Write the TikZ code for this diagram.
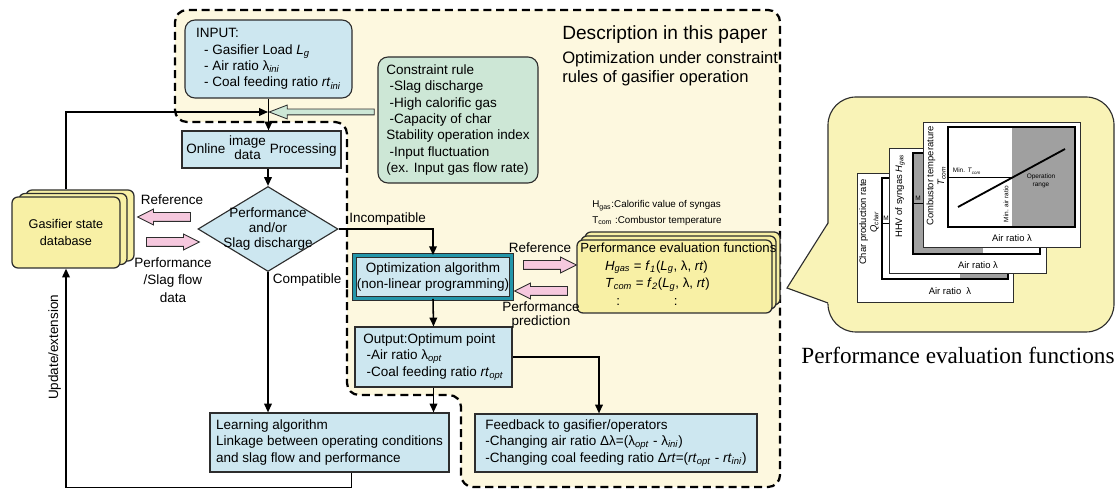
\documentclass[tikz,border=0pt]{standalone}
\usepackage{fontspec}
\setmainfont{Liberation Sans}
\newfontfamily\capfont{Liberation Serif}
\usetikzlibrary{shapes.geometric,shapes.arrows,arrows.meta,calc,positioning}

\definecolor{boxblue}{RGB}{205,231,240}
\definecolor{dbyellow}{RGB}{248,240,165}
\definecolor{zoneyellow}{RGB}{253,248,223}
\definecolor{bubbleyellow}{RGB}{249,243,183}
\definecolor{rulegreen}{RGB}{205,231,214}
\definecolor{arrowpink}{RGB}{246,200,222}
\definecolor{opteal}{RGB}{35,150,170}
\definecolor{rangegray}{RGB}{160,160,160}
\definecolor{edge}{RGB}{45,45,45}

\newcommand\pxu{0.025cm}
\newcommand\vsub[2]{\textit{#1}\textsubscript{\textit{#2}}}
\newcommand\boxfont{\fontsize{9.6}{11.7}\selectfont}
\newcommand\tinyfont{\fontsize{4.6}{5.3}\selectfont}
\newcommand\chartfont{\fontsize{6.7}{7.7}\selectfont}

\tikzset{
  zone/.style={draw=black, line width=1.6pt, dash pattern=on 0.2cm off 0.12cm, fill=zoneyellow, rounded corners=12*\pxu},
  box/.style={draw=edge, fill=boxblue, line width=0.8pt, font=\boxfont, inner xsep=2*\pxu, inner ysep=1*\pxu, align=left},
  rbox/.style={box, rounded corners=10*\pxu},
  stack/.style={draw=edge, fill=dbyellow, line width=0.9pt, rounded corners=6*\pxu, inner sep=0pt},
  flow/.style={draw=black, line width=1.1pt, -{Triangle[length=0.22cm,width=0.19cm]}},
  fatarrow/.style={single arrow, draw=edge, line width=0.6pt, inner sep=0pt, inner ysep=4*\pxu, minimum height=53*\pxu, single arrow head extend=3.5*\pxu, single arrow tip angle=53},
  pinkarrow/.style={fatarrow, fill=arrowpink},
  tag/.style={font=\boxfont, align=center, inner sep=0pt},
  card/.style={draw=edge, fill=white, line width=0.5pt},
  plotframe/.style={draw=black, line width=0.9pt},
  bubble/.style={draw=edge, fill=bubbleyellow, line width=0.8pt, rounded corners=28*\pxu}
}

\begin{document}
\begin{tikzpicture}[x=\pxu, y=-\pxu]
\useasboundingbox (0,0) rectangle (1117,490);

\draw[zone] (347,300) -- (347,122) -- (175,122) -- (175,10) -- (780,10) -- (780,487) -- (461,487) -- (461,395) -- (347,395) -- cycle;

\draw[bubble] (828,97) rectangle (1114,332);
\coordinate (tip) at (787,288);
\fill[bubbleyellow] (tip) -- (829.5,222) -- (829.5,304) -- cycle;
\draw[edge, line width=0.8pt] (828,223) -- (tip) -- (828,303);

\draw[card] (857,173) rectangle (1013,302);
\fill[rangegray] (960,178) rectangle (1008,279);
\draw[plotframe] (882,178) rectangle (1008,279);
\draw[thin] (882,223) -- (889,223);
\node[font=\tinyfont, inner sep=0pt] (mq) at (886,218) {M};
\node[font=\chartfont, rotate=90, align=center] (qlab) at (869,222) {Char production rate\\\vsub{Q}{char}};
\node[font=\chartfont] (xq) at (950,291) {Air ratio\ \ λ};

\draw[card] (889,148) rectangle (1046,273);
\fill[rangegray] (913,153) rectangle (983,254);
\draw[plotframe] (913,153) rectangle (1040,254);
\draw[thin] (913,203) -- (925,203);
\node[font=\tinyfont, inner sep=0pt] (mh) at (918,198) {M};
\node[font=\chartfont, rotate=90] (hlab) at (900,196) {HHV of syngas \vsub{H}{gas}};
\node[font=\chartfont] (xh) at (978,265) {Air ratio λ};

\draw[card] (923,122) rectangle (1080,247);
\fill[rangegray] (1012,127) rectangle (1075,227);
\draw[plotframe] (948,127) rectangle (1075,227);
\draw[thin] (948,177) -- (1012,177);
\draw[line width=1.3pt] (958,207) -- (1065,149);
\node[font=\chartfont, rotate=90, align=center] (tlab) at (936,176) {Combustor temperature\\\vsub{T}{com}};
\node[font=\tinyfont] (mint) at (967,171) {Min. \vsub{T}{com}};
\node[font=\tinyfont, rotate=90] (minair) at (1006,204) {Min. air ratio};
\node[font=\tinyfont, align=center] (oprange) at (1041,181) {Operation\\range};
\node[font=\chartfont] (xt) at (1012,238) {Air ratio λ};

\node[font=\capfont\fontsize{16.5}{19}\selectfont] (bubblecap) at (958,355) {Performance evaluation functions};

\node[anchor=west, inner sep=0pt, font=\fontsize{13.6}{16}\selectfont] (title) at (562,35) {Description in this paper};
\node[anchor=north west, inner sep=0pt, align=left, font=\fontsize{11.8}{13.5}\selectfont] (subtitle) at (562,51) {Optimization under constraint\\rules of gasifier operation};

\node[rbox, minimum width=167*\pxu, minimum height=78*\pxu] (input) at (268.5,59)
  {INPUT:\\\hspace*{0.2cm}- Gasifier Load \vsub{L}{g}\\\hspace*{0.2cm}- Air ratio λ\textsubscript{\textit{ini}}\\\hspace*{0.2cm}- Coal feeding ratio \vsub{rt}{ini}};
\node[rbox, fill=rulegreen, minimum width=160*\pxu, minimum height=126*\pxu] (rules) at (458,120)
  {Constraint rule\\\hspace*{0.08cm}-Slag discharge\\\hspace*{0.08cm}-High calorific gas\\\hspace*{0.08cm}-Capacity of char\\Stability operation index\\\hspace*{0.08cm}-Input fluctuation\\(ex. Input gas flow rate)};
\node[box, minimum width=159*\pxu, minimum height=37*\pxu] (online) at (261.5,149.5)
  {Online {\renewcommand\arraystretch{0.85}\begin{tabular}{@{}c@{}}image\\data\end{tabular}} Processing};
\node[diamond, draw=edge, fill=boxblue, line width=0.8pt, minimum width=140*\pxu, minimum height=85*\pxu, inner sep=0pt] (check) at (268,229) {};
\node[tag, font=\fontsize{9.6}{10.4}\selectfont] (checktext) at (check.center) {Performance\\and/or\\Slag discharge};

\foreach \k in {2,1}
  \node[stack, minimum width=108*\pxu, minimum height=71*\pxu] (db\k) at (66+7*\k,232.5-3.5*\k) {};
\node[stack, align=center, font=\fontsize{9}{12}\selectfont, minimum width=108*\pxu, minimum height=71*\pxu] (db) at (66,232.5) {Gasifier state\\database};

\foreach \k in {2,1}
  \node[stack, minimum width=195*\pxu, minimum height=73*\pxu] (pe\k) at (674.5+4*\k,276.5-4*\k) {};
\node[stack, minimum width=195*\pxu, minimum height=73*\pxu] (pe) at (674.5,276.5) {};
\node[anchor=north west, inner sep=0pt, align=left, font=\fontsize{9.4}{12.4}\selectfont] (petext) at (580,243)
  {Performance evaluation functions\\
   \hspace*{0.62cm}\vsub{H}{gas} = \vsub{f}{1}(\vsub{L}{g}, λ, \textit{rt})\\
   \hspace*{0.62cm}\vsub{T}{com} = \vsub{f}{2}(\vsub{L}{g}, λ, \textit{rt})\\
   \hspace*{0.9cm}:\hspace*{1.35cm}:};
\node[anchor=west, inner sep=0pt, align=left, font=\fontsize{7}{11.3}\selectfont] (legend) at (592,213)
  {H\textsubscript{gas}:Calorific value of syngas\\T\textsubscript{com} :Combustor temperature};

\node[box, align=center, double=opteal, double distance=2.4pt, line width=0.6pt, minimum width=157*\pxu, minimum height=43*\pxu] (opt) at (433,277)
  {Optimization algorithm\\(non-linear programming)};
\node[box, minimum width=157*\pxu, minimum height=60*\pxu] (out) at (433.5,357)
  {Output:Optimum point\\\hspace*{0.08cm}-Air ratio λ\textsubscript{\textit{opt}}\\\hspace*{0.08cm}-Coal feeding ratio \vsub{rt}{opt}};
\node[box, minimum width=239*\pxu, minimum height=59*\pxu] (learn) at (329.5,442.5)
  {Learning algorithm\\Linkage between operating conditions\\and slag flow and performance};
\node[box, minimum width=282*\pxu, minimum height=58*\pxu] (fb) at (616,443)
  {Feedback to gasifier/operators\\-Changing air ratio Δλ=(λ\textsubscript{\textit{opt}} - λ\textsubscript{\textit{ini}})\\-Changing coal feeding ratio Δ\textit{rt}=(\vsub{rt}{opt} - \vsub{rt}{ini})};

\node[pinkarrow, shape border rotate=180] (dbref) at (168.5,217) {};
\node[pinkarrow] (dbdata) at (168.5,242) {};
\node[pinkarrow] (peref) at (545.5,265) {};
\node[pinkarrow, shape border rotate=180] (pepred) at (545.5,291) {};
\node[fatarrow, fill=rulegreen, inner ysep=2.5*\pxu, minimum height=105*\pxu, single arrow head extend=4*\pxu, single arrow tip angle=42, shape border rotate=180] (rulearrow) at (325.5,112) {};
\node[tag] (dbreflab) at (172,200) {Reference};
\node[tag, font=\fontsize{9.6}{12.5}\selectfont] (dbdatalab) at (173,280) {Performance\\/Slag flow\\data};
\node[tag] (pereflab) at (540,248) {Reference};
\node[tag, font=\fontsize{9.6}{9.6}\selectfont] (pepredlab) at (541,315) {Performance\\prediction};

\coordinate (join) at (268,112);
\draw[flow] (input.south) -- (input.south |- online.north);
\draw[flow] (db.north |- db2.north) |- (join);
\draw[flow] (online.south -| check.north) -- (check.north);
\draw[flow] (check.east) -| (opt.north) node[tag, pos=0.26, above=2pt] (incomp) {Incompatible};
\draw[flow] (check.south) -- (check.south |- learn.north) node[tag, pos=0.057, anchor=west, xshift=3pt] (compat) {Compatible};
\draw[flow] (opt.south) -- (out.north);
\draw[flow] (out.south) -- (out.south |- learn.north);
\draw[flow] (out.east) -| ($(fb.north)+(-17,0)$);
\draw[flow] ($(learn.south)+(22,0)$) -- ++(0,15) -| (db.south) node[tag, pos=0.82, above=3pt, sloped] (update) {Update/extension};
\end{tikzpicture}
\end{document}
